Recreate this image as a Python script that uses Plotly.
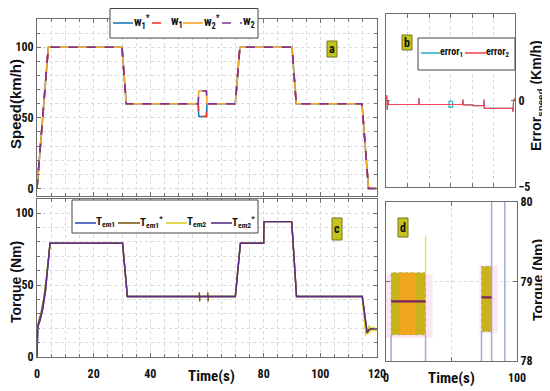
import plotly.graph_objects as go

# ---------------- data ----------------
# panel a : speeds (km/h)
t_speed = [0, 4, 30, 31.5, 56.9, 57.1, 59.8, 60, 70, 71.6, 90, 91.5, 114.7, 117, 120]
w1_ref = [0, 100, 100, 60, 60, 51, 51, 60, 60, 100, 100, 60, 60, 0, 0]
w1_meas = [0, 100, 100, 60, 60, 51, 51, 60, 60, 100, 100, 60, 60, 0, 0]
w2_ref = [0, 100, 100, 60, 60, 69, 69, 60, 60, 100, 100, 60, 60, 0, 0]
w2_meas = [0, 100, 100, 60, 60, 69, 69, 60, 60, 100, 100, 60, 60, 0, 0]

# panel b : speed errors (km/h)
t_err1 = [0, 0.6, 1.2, 1.8, 2.5, 30.4, 30.7, 31.0, 31.5, 58.6, 58.6, 62, 62, 58.6, 58.6,
          71.3, 71.6, 71.9, 80.9, 81.2, 91.0, 91.2, 91.5, 117.6, 118.1, 118.6, 119.4, 120]
err1 = [0, 0.3, -0.55, 0.0, -0.23, -0.23, 0.15, -0.25, -0.23, -0.23, -0.05, -0.05, -0.4, -0.4, -0.23,
        -0.23, 0.05, -0.25, -0.25, -0.3, -0.3, 0.05, -0.45, -0.45, -0.65, -0.1, 0.1, 0.0]
t_err2 = [0, 0.6, 1.2, 1.8, 2.5, 30.4, 30.7, 31.0, 31.5,
          71.3, 71.6, 71.9, 80.9, 81.2, 91.0, 91.2, 91.5, 117.6, 118.1, 118.6, 119.4, 120]
err2 = [0, 0.3, -0.55, 0.0, -0.23, -0.23, 0.15, -0.25, -0.23,
        -0.23, 0.05, -0.25, -0.25, -0.3, -0.3, 0.05, -0.45, -0.45, -0.65, -0.1, 0.1, 0.0]

# panel c : torques (Nm)
t_tem1 = [0, 0.3, 1, 2, 3, 4, 4.6, 30.2, 31.9, 70, 71.8, 80, 80.1, 89.9, 91.6, 114.8, 116.5, 117.2, 118, 120]
tem1 = [0, 21, 25, 33, 46, 66, 79, 79, 42, 42, 79, 79, 94, 94, 42, 42, 17, 19, 19.5, 19.5]
t_tem1_ref = [0, 0.5, 1.5, 2.5, 3.5, 4.6, 30.2, 31.9, 57.2, 57.3, 57.4, 57.5, 60.2, 60.3, 60.4, 60.5,
              70, 71.8, 80, 80.1, 89.9, 91.6, 114.8, 116.5, 117.2, 118, 120]
tem1_ref = [18, 24, 31, 42, 58, 79, 79, 42, 42, 45, 38.5, 42, 42, 45, 38.5, 42,
            42, 79, 79, 94, 94, 42, 42, 16.5, 19, 19.5, 19.5]
t_tem2 = [0, 0.5, 1.5, 2.5, 3.5, 4.6, 30.2, 31.9, 70, 71.8, 80, 80.1, 89.9, 91.6, 114.8,
          116.0, 116.4, 116.8, 117.2, 117.6, 118.0, 118.5, 119.0, 119.5, 120]
tem2 = [18, 24, 31, 42, 58, 79, 79, 42, 42, 79, 79, 94, 94, 42, 42,
        15, 21, 16, 22, 17, 21, 18, 21, 18, 20]
t_tem2_ref = [0, 0.3, 1, 2, 3, 4, 4.6, 30.2, 31.9, 70, 71.8, 80, 80.1, 89.9, 91.6, 114.8, 116.5, 117.2, 118, 120]
tem2_ref = [0, 21, 25, 33, 46, 66, 79, 79, 42, 42, 79, 79, 94, 94, 42, 42, 17, 19, 19.5, 19.5]

# panel d : torque zoom (Nm)
zone_t0 = [0, 71.3]
zone_t1 = [35.6, 85.3]
zone_lo = [78.29, 78.35]
zone_hi = [79.09, 79.2]
band_t0 = [3.9, 72.9]
band_t1 = [30.2, 80.6]
band_lo = [78.33, 78.37]
band_hi = [79.11, 79.19]
band_mid = [78.75, 78.8]
core_t = [10.9, 22.5]
stem_t = [3.9, 30.2, 72.9, 80.6, 90.7]
stem_lo = [78.0, 78.0, 78.0, 78.0, 78.0]
stem_hi = [78.33, 78.33, 78.37, 80.0, 80.0]
spike_t = [30.2]
spike_lo = [79.11]
spike_hi = [79.58]

# ---------------- helpers ----------------
# page body has an 8px margin: figure is sized to fill the rest of the 550x391 window
OFF = 8
W, H = 550 - OFF, 391 - OFF
def X(px): return (px - OFF) / W
def Y(py): return 1 - (py - OFF) / H

NARROW = "Liberation Sans Narrow, Arial Narrow, Roboto Condensed, Roboto, sans-serif"
WIDE = "Liberation Sans, Arial, sans-serif"
GRID = "#d9d9d9"
LINE = "#6e6e6e"

C_W1R, C_W1, C_W2R, C_W2 = "#1b7bb8", "#ee3a2a", "#f5a62a", "#7d3590"
C_E1, C_E2 = "#2ab3c0", "#f2475a"
C_T1, C_T1R, C_T2, C_T2R = "#3553b8", "#7a5c14", "#d7d226", "#5f2d88"

fig = go.Figure()

# panel a
for tt, yy, col, dash, nm in [(t_speed, w1_ref, C_W1R, "solid", "w1*"),
                              (t_speed, w2_ref, C_W2R, "solid", "w2*"),
                              (t_speed, w1_meas, C_W1, "dash", "w1"),
                              (t_speed, w2_meas, C_W2, "dash", "w2")]:
    fig.add_trace(go.Scatter(x=tt, y=yy, mode="lines", name=nm, xaxis="x", yaxis="y",
                             line=dict(color=col, width=1.6, dash=dash), showlegend=False))

# panel b
fig.add_trace(go.Scatter(x=t_err1, y=err1, mode="lines", name="error1", xaxis="x2", yaxis="y2",
                         line=dict(color=C_E1, width=1.2), showlegend=False))
fig.add_trace(go.Scatter(x=t_err2, y=err2, mode="lines", name="error2", xaxis="x2", yaxis="y2",
                         line=dict(color=C_E2, width=1.2), showlegend=False))

# panel c
for tt, yy, col, nm in [(t_tem1, tem1, C_T1, "Tem1"),
                        (t_tem2, tem2, C_T2, "Tem2"),
                        (t_tem1_ref, tem1_ref, C_T1R, "Tem1*"),
                        (t_tem2_ref, tem2_ref, C_T2R, "Tem2*")]:
    fig.add_trace(go.Scatter(x=tt, y=yy, mode="lines", name=nm, xaxis="x3", yaxis="y3",
                             line=dict(color=col, width=1.4), showlegend=False))

# panel d
for i in range(len(zone_t0)):
    fig.add_trace(go.Scatter(x=[zone_t0[i], zone_t1[i], zone_t1[i], zone_t0[i], zone_t0[i]],
                             y=[zone_lo[i], zone_lo[i], zone_hi[i], zone_hi[i], zone_lo[i]],
                             mode="lines", fill="toself", fillcolor="#fde7f5",
                             line=dict(width=0), xaxis="x4", yaxis="y4", showlegend=False, hoverinfo="skip"))
for i in range(len(band_t0)):
    fig.add_trace(go.Scatter(x=[band_t0[i], band_t1[i], band_t1[i], band_t0[i], band_t0[i]],
                             y=[band_lo[i], band_lo[i], band_hi[i], band_hi[i], band_lo[i]],
                             mode="lines", fill="toself", fillcolor="#c9b21c",
                             line=dict(width=0.8, color="#8fae6a", dash="dot"), xaxis="x4", yaxis="y4",
                             showlegend=False, name="Tem2"))
fig.add_trace(go.Scatter(x=[core_t[0], core_t[1], core_t[1], core_t[0], core_t[0]],
                         y=[band_lo[0], band_lo[0], band_hi[0], band_hi[0], band_lo[0]],
                         mode="lines", fill="toself", fillcolor="#f1a61f", line=dict(width=0),
                         xaxis="x4", yaxis="y4", showlegend=False, name="Tem1*"))
for i in range(len(stem_t)):
    fig.add_trace(go.Scatter(x=[stem_t[i], stem_t[i]], y=[stem_lo[i], stem_hi[i]], mode="lines",
                             line=dict(color="#a7a7df", width=1.5), xaxis="x4", yaxis="y4",
                             showlegend=False, name="Tem1"))
fig.add_trace(go.Scatter(x=[spike_t[0], spike_t[0]], y=[spike_lo[0], spike_hi[0]], mode="lines",
                         line=dict(color="#e4e07a", width=1.5), xaxis="x4", yaxis="y4", showlegend=False))
for i in range(len(band_t0)):
    fig.add_trace(go.Scatter(x=[band_t0[i], band_t1[i]], y=[band_mid[i], band_mid[i]], mode="lines",
                             line=dict(color="#7a2060", width=2.2), xaxis="x4", yaxis="y4",
                             showlegend=False, name="Tem2*"))

tickfont = dict(family=NARROW, size=12, color="#111", weight="bold")
common = dict(showline=True, linecolor=LINE, linewidth=1, mirror="allticks", ticks="inside",
              ticklen=4, tickcolor=LINE, showgrid=True, gridcolor=GRID, griddash="dot",
              zeroline=False, tickfont=tickfont, fixedrange=True, automargin=False)

fig.update_layout(
    template="none",
    width=W, height=H, margin=dict(l=0, r=0, t=0, b=0, autoexpand=False),
    paper_bgcolor="white", plot_bgcolor="white", showlegend=False,
    xaxis=dict(domain=[X(37), X(377)], range=[0, 120], anchor="y", showticklabels=False,
               tickvals=[0, 20, 40, 60, 80, 100, 120],
               minor=dict(dtick=5, tick0=0, ticks="inside", ticklen=3, tickcolor=LINE,
                          showgrid=True, gridcolor=GRID, griddash="dot"), **common),
    yaxis=dict(domain=[Y(195.5), Y(19)], range=[-5, 120], anchor="x", tickvals=[0, 50, 100],
               minor=dict(dtick=10, tick0=0, ticks="inside", ticklen=3, tickcolor=LINE,
                          showgrid=True, gridcolor=GRID, griddash="dot"), **common),
    xaxis2=dict(domain=[X(386), X(515)], range=[0, 120], anchor="y2", showticklabels=False,
                dtick=20, **common),
    yaxis2=dict(domain=[Y(187), Y(14)], range=[-5, 5], anchor="x2", side="right",
                tickvals=[-5, 0, 5], **{**common, "showgrid": False}),
    xaxis3=dict(domain=[X(37), X(377)], range=[0, 120], anchor="y3",
                tickvals=[0, 20, 40, 80, 100, 120], ticklabelstandoff=6,
                minor=dict(dtick=5, tick0=0, ticks="inside", ticklen=3, tickcolor=LINE,
                           showgrid=True, gridcolor=GRID, griddash="dot"), **common),
    yaxis3=dict(domain=[Y(357), Y(198.6)], range=[0, 110], anchor="x3", tickvals=[0, 50, 100],
                minor=dict(dtick=10, tick0=0, ticks="inside", ticklen=3, tickcolor=LINE,
                           showgrid=True, gridcolor=GRID, griddash="dot"), **common),
    xaxis4=dict(domain=[X(386), X(517)], range=[0, 100], anchor="y4",
                tickvals=[0, 50, 100], ticktext=["0", " ", "100"], ticklabelstandoff=6, **common),
    yaxis4=dict(domain=[Y(361), Y(202)], range=[78, 80], anchor="x4", side="right",
                tickvals=[78, 79, 80], **common),
)

ann = []
shapes = []

def label(text, x, y, size=15, angle=-90, fam=WIDE):
    ann.append(dict(text=text, x=X(x), y=Y(y), xref="paper", yref="paper", showarrow=False,
                    textangle=angle, font=dict(family=fam, size=size, color="#111", weight="bold"),
                    xanchor="center", yanchor="middle"))

label("Speed(km/h)", 16, 104, size=15)
label("Torque (Nm)", 16, 282, size=14)
label("Error<sub>speed</sub> (Km/h)", 537, 96, size=14)
label("Torque (Nm)", 538, 280, size=14)
label("Time(s)", 211, 376, size=15, angle=0, fam=NARROW)
label("Time(s)", 451, 378, size=15, angle=0, fam=NARROW)

# panel tags
for txt, x0, y0, x1, y1 in [("a", 327, 41, 337, 57), ("b", 402, 35, 412, 50),
                            ("c", 332, 218, 342, 240), ("d", 398, 218, 408, 237)]:
    shapes.append(dict(type="rect", xref="paper", yref="paper", x0=X(x0), x1=X(x1), y0=Y(y1), y1=Y(y0),
                       fillcolor="#c4c41c", line=dict(color="#77771a", width=1)))
    ann.append(dict(text=txt, x=X((x0 + x1) / 2), y=Y((y0 + y1) / 2), xref="paper", yref="paper",
                    showarrow=False, font=dict(family=NARROW, size=12, color="#111", weight="bold"),
                    xanchor="center", yanchor="middle"))

# legends (drawn by hand)
def legend_box(x0, y0, x1, y1):
    shapes.append(dict(type="rect", xref="paper", yref="paper", x0=X(x0), x1=X(x1), y0=Y(y1), y1=Y(y0),
                       fillcolor="white", line=dict(color="#444", width=1), layer="above"))

def legend_item(xs, xe, y, col, dash, text, xt, size=12):
    shapes.append(dict(type="line", xref="paper", yref="paper", x0=X(xs), x1=X(xe), y0=Y(y), y1=Y(y),
                       line=dict(color=col, width=1.6, dash=dash), layer="above"))
    ann.append(dict(text=text, x=X(xt), y=Y(y - 1), xref="paper", yref="paper", showarrow=False,
                    xanchor="left", yanchor="middle", borderpad=0,
                    font=dict(family=NARROW, size=size, color="#111", weight="bold")))

legend_box(110, 8.5, 258, 38)
legend_item(113, 133, 23, C_W1R, "solid", "w<sub>1</sub><sup>*</sup>", 133)
legend_item(152, 170, 23, C_W1, "dash", "w<sub>1</sub>", 170)
legend_item(183, 203, 23, C_W2R, "solid", "w<sub>2</sub><sup>*</sup>", 203)
legend_item(222, 242, 23, C_W2, "dash", "w<sub>2</sub>", 242)

legend_box(418, 38, 515, 70)
legend_item(421, 440, 53, C_E1, "solid", "error<sub>1</sub>", 439, size=10)
legend_item(465, 486, 53, C_E2, "solid", "error<sub>2</sub>", 485, size=10)

legend_box(72, 200, 258, 233)
legend_item(75, 96, 223, C_T1, "solid", "T<sub>em1</sub>", 95, size=11)
legend_item(118, 140, 223, C_T1R, "solid", "T<sub>em1</sub><sup>*</sup>", 139, size=11)
legend_item(166, 187, 223, C_T2, "solid", "T<sub>em2</sub>", 186, size=11)
legend_item(211, 232, 223, C_T2R, "solid", "T<sub>em2</sub><sup>*</sup>", 231, size=11)

fig.update_layout(annotations=ann, shapes=shapes)
fig.write_html("out.html")
